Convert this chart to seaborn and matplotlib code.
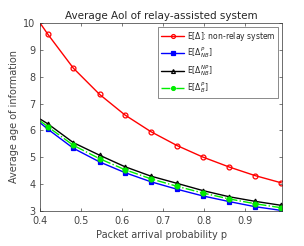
"""Average AoI of relay-assisted system."""
import matplotlib
matplotlib.use("Agg")
import matplotlib.pyplot as plt
import pandas as pd
import seaborn as sns

# packet arrival probability (first point is line start, rest carry markers)
p = [0.40, 0.419, 0.481, 0.545, 0.607, 0.670, 0.734, 0.797, 0.861, 0.924, 0.988]

aoi_nonrelay = [10.0, 9.58, 8.32, 7.34, 6.57, 5.95, 5.43, 5.00, 4.63, 4.31, 4.04]
aoi_p_nb = [6.28, 6.04, 5.33, 4.82, 4.42, 4.08, 3.80, 3.55, 3.34, 3.15, 3.01]
aoi_np_nb = [6.42, 6.24, 5.54, 5.07, 4.64, 4.29, 4.02, 3.75, 3.52, 3.35, 3.20]
aoi_p_b = [6.35, 6.13, 5.44, 4.94, 4.53, 4.19, 3.91, 3.66, 3.44, 3.26, 3.11]

labels = [r"E[$\Delta$]: non-relay system",
          r"E[$\Delta^{P}_{NB}$]",
          r"E[$\Delta^{NP}_{NB}$]",
          r"E[$\Delta^{P}_{B}$]"]

df = pd.DataFrame({"p": p, labels[0]: aoi_nonrelay, labels[1]: aoi_p_nb,
                   labels[2]: aoi_np_nb, labels[3]: aoi_p_b})
long = df.melt(id_vars="p", var_name="series", value_name="aoi")

sns.set_style("ticks")
plt.rcParams["font.family"] = ["DejaVu Sans"]

fig = plt.figure(figsize=(3.04, 2.46), dpi=100)
ax = fig.add_axes([0.132, 0.1435, 0.796, 0.7625])

styles = {
    labels[0]: dict(color="#ff0000", marker="o", mfc="none", ls="-"),
    labels[1]: dict(color="#0000ff", marker="s", mfc="#0000ff", ls="-"),
    labels[2]: dict(color="#000000", marker="^", mfc="none", ls="-"),
    labels[3]: dict(color="#00ee00", marker="o", mfc="#00ee00", ls="-."),
}
for name in labels:
    st = styles[name]
    sub = long[long["series"] == name]
    sns.lineplot(data=sub, x="p", y="aoi", ax=ax, color=st["color"],
                 marker=st["marker"], markerfacecolor=st["mfc"],
                 markeredgecolor=st["color"], markersize=3.5, markeredgewidth=0.9,
                 linestyle=st["ls"], linewidth=1.0, markevery=list(range(1, len(p))),
                 label=name)

ax.set_xlim(0.4, 0.99)
ax.set_ylim(3, 10)
ax.set_xticks([0.4, 0.5, 0.6, 0.7, 0.8, 0.9])
ax.set_yticks(range(3, 11))
ax.tick_params(direction="in", length=2.5, width=0.5, labelsize=7,
               colors="#444444", top=True, right=True)
for s in ax.spines.values():
    s.set_linewidth(0.5)
    s.set_color("#333333")
ax.set_xlabel("Packet arrival probability p", fontsize=7, color="#444444", labelpad=3)
ax.set_ylabel("Average age of information", fontsize=7, color="#444444", labelpad=3)
ax.set_title("Average AoI of relay-assisted system", fontsize=7.5, pad=3)

leg = ax.legend(loc="upper right", fontsize=5.5, frameon=True, fancybox=False,
                edgecolor="#333333", handlelength=3.0, borderpad=0.35,
                labelspacing=0.35, handletextpad=0.4, borderaxespad=0.5,
                markerscale=0.8)
leg.get_frame().set_linewidth(0.5)

fig.savefig("out.png", dpi=100)
plt.close(fig)
